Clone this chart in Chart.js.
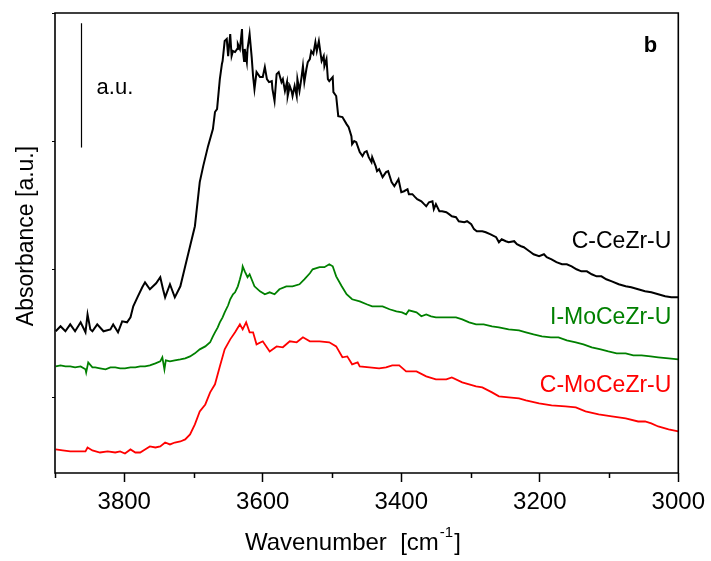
<!DOCTYPE html>
<html>
<head>
<meta charset="utf-8">
<title>FTIR OH region</title>
<script src="https://cdn.jsdelivr.net/npm/chart.js@4.4.1/dist/chart.umd.min.js"></script>
<style>
    html, body { margin: 0; padding: 0; background: #fff; }
    #ftir-chart { display: block; }
</style>
</head>
<body>
<canvas id="ftir-chart" width="711" height="561"></canvas>
<script>
// wavenumber (cm-1) / absorbance (a.u., offset)
const wnBlack = [3899, 3892, 3885, 3878, 3871, 3863, 3856, 3853, 3849, 3846, 3839, 3830, 3820, 3816, 3809, 3803, 3796, 3791, 3787, 3781, 3774, 3770, 3763, 3754, 3748, 3744, 3741, 3734, 3727, 3719, 3712, 3705, 3698, 3691, 3686, 3679, 3672, 3669, 3666, 3662, 3659, 3658, 3655, 3652, 3650, 3647, 3645, 3643, 3640, 3637, 3636, 3633, 3630, 3629, 3627, 3626, 3623, 3622, 3619, 3616, 3614, 3612, 3609, 3604, 3600, 3597, 3594, 3591, 3587, 3586, 3583, 3580, 3577, 3573, 3571, 3568, 3565, 3564, 3561, 3558, 3557, 3554, 3551, 3550, 3547, 3544, 3542, 3540, 3537, 3535, 3532, 3530, 3527, 3524, 3522, 3519, 3517, 3515, 3512, 3511, 3508, 3506, 3504, 3499, 3498, 3494, 3491, 3485, 3479, 3476, 3472, 3471, 3468, 3465, 3460, 3456, 3453, 3450, 3447, 3443, 3442, 3437, 3435, 3432, 3427, 3422, 3419, 3414, 3410, 3404, 3400, 3396, 3391, 3389, 3384, 3380, 3377, 3371, 3367, 3364, 3360, 3355, 3353, 3350, 3345, 3341, 3335, 3331, 3327, 3321, 3317, 3309, 3305, 3299, 3295, 3291, 3283, 3278, 3271, 3263, 3259, 3255, 3249, 3245, 3237, 3233, 3227, 3223, 3219, 3213, 3209, 3201, 3194, 3190, 3183, 3176, 3168, 3161, 3154, 3147, 3140, 3132, 3125, 3118, 3111, 3104, 3096, 3086, 3076, 3068, 3058, 3048, 3039, 3029, 3019, 3010, 3000];
const absBlack = [0.516, 0.555, 0.516, 0.570, 0.516, 0.586, 0.508, 0.648, 0.531, 0.516, 0.570, 0.516, 0.531, 0.570, 0.508, 0.594, 0.586, 0.625, 0.711, 0.781, 0.859, 0.898, 0.844, 0.891, 0.938, 0.844, 0.781, 0.883, 0.781, 0.867, 1.023, 1.180, 1.336, 1.680, 1.805, 1.961, 2.094, 2.227, 2.250, 2.484, 2.602, 2.625, 2.781, 2.797, 2.664, 2.836, 2.664, 2.703, 2.695, 2.719, 2.758, 2.719, 2.875, 2.719, 2.625, 2.719, 2.617, 2.719, 2.836, 2.656, 2.508, 2.406, 2.539, 2.500, 2.500, 2.578, 2.484, 2.461, 2.469, 2.406, 2.313, 2.523, 2.539, 2.461, 2.484, 2.391, 2.461, 2.352, 2.430, 2.383, 2.352, 2.430, 2.352, 2.484, 2.391, 2.500, 2.586, 2.461, 2.563, 2.617, 2.641, 2.703, 2.680, 2.773, 2.703, 2.781, 2.703, 2.625, 2.664, 2.586, 2.641, 2.484, 2.469, 2.500, 2.383, 2.352, 2.195, 2.188, 2.133, 2.109, 2.039, 1.977, 2.000, 1.992, 1.914, 1.883, 1.914, 1.922, 1.875, 1.836, 1.875, 1.805, 1.766, 1.781, 1.719, 1.758, 1.766, 1.680, 1.648, 1.703, 1.602, 1.609, 1.625, 1.586, 1.586, 1.563, 1.547, 1.531, 1.508, 1.492, 1.523, 1.531, 1.469, 1.508, 1.453, 1.453, 1.445, 1.430, 1.414, 1.406, 1.375, 1.367, 1.375, 1.352, 1.313, 1.297, 1.297, 1.289, 1.273, 1.250, 1.211, 1.234, 1.219, 1.211, 1.219, 1.195, 1.180, 1.172, 1.156, 1.133, 1.117, 1.102, 1.117, 1.094, 1.078, 1.055, 1.039, 1.039, 1.023, 1.000, 0.984, 0.984, 0.961, 0.945, 0.945, 0.922, 0.906, 0.883, 0.867, 0.859, 0.844, 0.828, 0.820, 0.805, 0.789, 0.781, 0.781];

const wnGreen = [3899, 3892, 3885, 3878, 3871, 3863, 3856, 3855, 3852, 3846, 3842, 3835, 3827, 3820, 3813, 3806, 3799, 3791, 3784, 3777, 3770, 3763, 3755, 3748, 3745, 3742, 3740, 3734, 3727, 3719, 3712, 3705, 3698, 3691, 3683, 3676, 3672, 3669, 3665, 3662, 3658, 3655, 3650, 3647, 3643, 3640, 3636, 3633, 3630, 3629, 3626, 3622, 3619, 3612, 3604, 3597, 3590, 3583, 3576, 3566, 3557, 3547, 3540, 3532, 3528, 3518, 3511, 3504, 3499, 3494, 3486, 3479, 3471, 3460, 3450, 3442, 3427, 3417, 3407, 3399, 3393, 3389, 3378, 3371, 3364, 3357, 3350, 3341, 3331, 3321, 3312, 3302, 3292, 3281, 3269, 3259, 3245, 3230, 3220, 3209, 3197, 3184, 3173, 3161, 3148, 3137, 3125, 3112, 3101, 3089, 3076, 3065, 3053, 3040, 3029, 3014, 3000];
const absGreen = [0.242, 0.250, 0.242, 0.242, 0.234, 0.242, 0.219, 0.195, 0.273, 0.234, 0.234, 0.227, 0.219, 0.234, 0.234, 0.227, 0.227, 0.234, 0.234, 0.242, 0.242, 0.250, 0.266, 0.281, 0.313, 0.219, 0.289, 0.281, 0.289, 0.297, 0.305, 0.320, 0.344, 0.375, 0.398, 0.430, 0.477, 0.508, 0.547, 0.586, 0.625, 0.664, 0.719, 0.766, 0.805, 0.820, 0.867, 0.922, 0.984, 1.023, 0.984, 0.938, 0.961, 0.867, 0.828, 0.805, 0.820, 0.805, 0.844, 0.867, 0.867, 0.883, 0.922, 0.969, 1.000, 1.016, 1.016, 1.039, 1.023, 0.945, 0.867, 0.805, 0.766, 0.750, 0.727, 0.711, 0.711, 0.688, 0.672, 0.664, 0.648, 0.680, 0.664, 0.633, 0.648, 0.633, 0.625, 0.625, 0.625, 0.625, 0.609, 0.586, 0.570, 0.570, 0.555, 0.547, 0.531, 0.523, 0.508, 0.492, 0.477, 0.469, 0.469, 0.445, 0.430, 0.414, 0.391, 0.375, 0.359, 0.344, 0.344, 0.328, 0.328, 0.320, 0.313, 0.305, 0.297];

const wnRed = [3899, 3889, 3878, 3866, 3856, 3853, 3846, 3835, 3824, 3813, 3806, 3799, 3791, 3784, 3777, 3770, 3763, 3755, 3748, 3741, 3734, 3727, 3719, 3712, 3705, 3698, 3691, 3683, 3676, 3669, 3662, 3655, 3647, 3640, 3633, 3629, 3624, 3619, 3614, 3609, 3600, 3590, 3580, 3571, 3561, 3551, 3542, 3532, 3518, 3504, 3494, 3485, 3478, 3471, 3463, 3460, 3446, 3432, 3422, 3413, 3403, 3393, 3378, 3364, 3350, 3335, 3327, 3312, 3292, 3283, 3269, 3259, 3245, 3230, 3220, 3201, 3183, 3163, 3148, 3134, 3115, 3096, 3076, 3058, 3048, 3039, 3029, 3014, 3000];
const absRed = [-0.406, -0.414, -0.422, -0.422, -0.422, -0.391, -0.414, -0.430, -0.422, -0.430, -0.422, -0.438, -0.406, -0.430, -0.430, -0.406, -0.383, -0.391, -0.383, -0.352, -0.367, -0.352, -0.344, -0.328, -0.289, -0.211, -0.109, -0.055, 0.039, 0.102, 0.242, 0.375, 0.453, 0.508, 0.570, 0.531, 0.586, 0.508, 0.508, 0.414, 0.438, 0.359, 0.398, 0.391, 0.438, 0.430, 0.469, 0.438, 0.438, 0.430, 0.398, 0.313, 0.320, 0.258, 0.273, 0.242, 0.234, 0.227, 0.234, 0.250, 0.250, 0.203, 0.203, 0.164, 0.141, 0.141, 0.156, 0.117, 0.086, 0.078, 0.039, 0.008, 0.000, -0.008, -0.023, -0.047, -0.063, -0.070, -0.078, -0.109, -0.133, -0.148, -0.164, -0.188, -0.188, -0.203, -0.227, -0.250, -0.266];

const seriesNames = ['C-CeZr-U', 'I-MoCeZr-U', 'C-MoCeZr-U'];
const seriesColors = ['#000000', '#008000', '#ff0000'];
const xTickLabels = [3800, 3600, 3400, 3200, 3000];
const xMinorTicks = [3900, 3700, 3500, 3300, 3100];
const yTickValues = [0, 1, 2, 3];

// label anchors in data units: [wavenumber of right edge, absorbance of text middle]
const labelAnchors = [[3010, 1.219], [3010, 0.625], [3010, 0.094]];
const scaleBar = { x: 3862, from: 1.95, to: 2.92 };

const FONT = '"Liberation Sans", Arial, Helvetica, sans-serif';

const toPoints = (xs, ys) => xs.map((x, i) => ({ x, y: ys[i] }));

const decorations = {
    id: 'decorations',
    afterDraw(chart) {
        const { ctx, chartArea: area, scales: { x, y } } = chart;
        ctx.save();

        // frame
        ctx.strokeStyle = '#000';
        ctx.lineWidth = 1.6;
        ctx.beginPath();
        ctx.moveTo(area.left, area.top);
        ctx.lineTo(area.right, area.top);
        ctx.lineTo(area.right, area.bottom);
        ctx.lineTo(area.left, area.bottom);
        ctx.closePath();
        ctx.stroke();

        // minor x ticks
        ctx.lineWidth = 1.5;
        ctx.beginPath();
        xMinorTicks.forEach((v) => {
            const px = Math.round(x.getPixelForValue(v)) + 0.5;
            ctx.moveTo(px, area.bottom);
            ctx.lineTo(px, area.bottom + 5);
        });
        ctx.stroke();

        // scale bar
        const barX = Math.round(x.getPixelForValue(scaleBar.x)) + 0.5;
        ctx.lineWidth = 1.2;
        ctx.beginPath();
        ctx.moveTo(barX, y.getPixelForValue(scaleBar.to));
        ctx.lineTo(barX, y.getPixelForValue(scaleBar.from));
        ctx.stroke();

        ctx.fillStyle = '#000';
        ctx.textBaseline = 'alphabetic';
        ctx.textAlign = 'left';
        ctx.font = `22px ${FONT}`;
        ctx.fillText('a.u.', x.getPixelForValue(3840), y.getPixelForValue(2.367));

        ctx.font = `bold 22px ${FONT}`;
        ctx.fillText('b', x.getPixelForValue(3050), y.getPixelForValue(2.695));

        // series labels
        ctx.font = `23px ${FONT}`;
        ctx.textAlign = 'right';
        ctx.textBaseline = 'middle';
        seriesNames.forEach((name, i) => {
            ctx.fillStyle = seriesColors[i];
            ctx.fillText(name, x.getPixelForValue(labelAnchors[i][0]), y.getPixelForValue(labelAnchors[i][1]));
        });

        // x title with superscript
        ctx.fillStyle = '#000';
        ctx.textAlign = 'left';
        ctx.textBaseline = 'alphabetic';
        let tx = 245;
        const base = 550;
        ctx.font = `24px ${FONT}`;
        const main = 'Wavenumber  [cm';
        ctx.fillText(main, tx, base);
        tx += ctx.measureText(main).width;
        ctx.font = `15px ${FONT}`;
        ctx.fillText('-1', tx + 1, base - 13);
        tx += ctx.measureText('-1').width + 2;
        ctx.font = `24px ${FONT}`;
        ctx.fillText(']', tx, base);

        // y title
        ctx.translate(33, 236);
        ctx.rotate(-Math.PI / 2);
        ctx.textAlign = 'center';
        ctx.font = `23px ${FONT}`;
        ctx.fillText('Absorbance [a.u.]', 0, 0);

        ctx.restore();
    },
};

new Chart(document.getElementById('ftir-chart'), {
    type: 'line',
    data: {
        datasets: [
            { label: seriesNames[0], data: toPoints(wnBlack, absBlack), borderColor: seriesColors[0], borderWidth: 2 },
            { label: seriesNames[1], data: toPoints(wnGreen, absGreen), borderColor: seriesColors[1], borderWidth: 1.8 },
            { label: seriesNames[2], data: toPoints(wnRed, absRed), borderColor: seriesColors[2], borderWidth: 1.8 },
        ],
    },
    options: {
        responsive: false,
        animation: false,
        devicePixelRatio: 1,
        layout: {
            padding: { left: 0, right: 31, top: 13, bottom: 0 },
        },
        elements: {
            point: { radius: 0 },
            line: { tension: 0, fill: false },
        },
        plugins: {
            legend: { display: false },
            tooltip: { enabled: false },
        },
        scales: {
            x: {
                type: 'linear',
                reverse: true,
                min: 3000,
                max: 3900,
                border: { display: false },
                grid: {
                    drawOnChartArea: false,
                    drawTicks: true,
                    tickLength: 9,
                    tickWidth: 1.5,
                    tickColor: (ctx) => (xTickLabels.includes(ctx.tick.value) ? '#000' : 'rgba(0,0,0,0)'),
                },
                ticks: {
                    stepSize: 100,
                    autoSkip: false,
                    maxRotation: 0,
                    padding: 6,
                    color: '#000',
                    font: { family: FONT, size: 24 },
                    callback: (value) => (xTickLabels.includes(value) ? String(value) : ''),
                },
                afterFit: (scale) => { scale.height = 88; },
            },
            y: {
                type: 'linear',
                min: -0.59,
                max: 3.0,
                border: { display: false },
                grid: {
                    drawOnChartArea: false,
                    drawTicks: true,
                    tickLength: 3,
                    tickWidth: 1,
                    tickColor: '#000',
                },
                ticks: { display: false },
                afterBuildTicks: (scale) => { scale.ticks = yTickValues.map((value) => ({ value })); },
                afterFit: (scale) => { scale.width = 55; },
            },
        },
    },
    plugins: [decorations],
});
</script>
</body>
</html>
